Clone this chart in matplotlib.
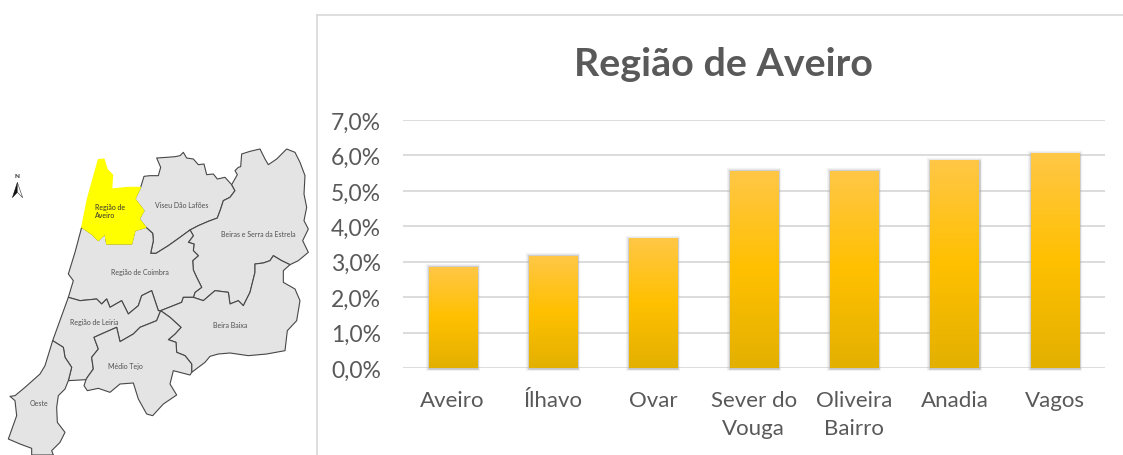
import matplotlib
matplotlib.use('Agg')
import matplotlib.pyplot as plt
import numpy as np
from matplotlib.colors import LinearSegmentedColormap
from matplotlib.patches import Polygon

W, H = 1123, 456

municipios = ['Aveiro', 'Ílhavo', 'Ovar', 'Sever do\nVouga', 'Oliveira\nBairro', 'Anadia', 'Vagos']
valores = [2.85, 3.15, 3.65, 5.55, 5.55, 5.85, 6.05]
ticks_y = [0, 1, 2, 3, 4, 5, 6, 7]
tick_labels = ['0,0%', '1,0%', '2,0%', '3,0%', '4,0%', '5,0%', '6,0%', '7,0%']

# map borders (units = 1/3 pixel), regions are joined from these below
aveiro_norte = [(245,265),(262,180),(295,62),(312,60),(322,92),(338,108),(335,150),(385,145),(422,145)]
aveiro_viseu = [(422,145),(405,180),(432,215),(418,240),(438,265)]
aveiro_coimbra = [(245,265),(275,285),(295,305),(315,285),(320,315),(395,315),(405,275),(438,265)]
viseu_norte = [(422,145),(432,112),(450,110),(475,110),(482,85),(470,57),(500,55),(525,53),(540,50),(550,40),
               (560,57),(580,60),(595,77),(612,75),(620,107),(640,105),(652,120),(675,115),(695,137)]
viseu_beiras = [(695,137),(705,155),(690,175),(670,185),(662,210),(652,237),(625,247),(595,260),(570,273)]
viseu_coimbra = [(570,273),(540,295),(505,320),(468,343),(452,343),(460,305),(458,283),(438,265)]
beiras_fora = [(695,137),(712,107),(705,95),(715,85),(722,83),(725,45),(750,37),(780,30),(795,60),(805,77),(830,60),
               (860,30),(885,40),(900,70),(915,110),(912,165),(920,205),(912,245),(925,270),(908,305),(925,340),
               (895,365),(870,377)]
beiras_bb = [(870,377),(845,365),(820,350),(810,365),(790,372),(765,375),(765,400),(750,460),(730,500),(715,485),
             (690,495),(685,460),(645,455),(610,485),(580,475)]
beiras_coimbra = [(570,273),(580,290),(565,310),(582,315),(580,335),(595,350),(578,365),(580,393),(590,415),
                  (605,445),(585,460),(580,475)]
bb_coimbra = [(482,515),(520,500),(545,490),(550,475),(580,475)]
bb_fora = [(870,377),(850,395),(850,430),(885,450),(900,485),(890,545),(862,575),(855,635),(800,645),(745,650),
           (690,642),(655,645),(630,652),(615,670),(575,700)]
bb_tejo = [(575,700),(575,675),(555,650),(530,640),(528,610),(505,602),(525,585),(543,565),(510,535),(482,515)]
coimbra_leiria = [(205,475),(240,485),(290,480),(305,495),(320,480),(330,505),(365,485),(385,525),(415,500),
                  (425,470),(455,455),(465,485),(475,515),(482,515)]
leiria_tejo = [(482,515),(470,545),(420,565),(400,585),(360,608),(350,565),(320,578),(282,595),(295,630),(275,655),
               (280,690),(262,715),(258,722)]
leiria_sul = [(258,722),(205,725)]
leiria_oeste = [(205,725),(215,685),(195,655),(190,625),(158,605)]
costa_coimbra = [(205,475),(220,425),(205,405),(225,340),(245,265)]
costa_leiria = [(158,605),(205,475)]
costa_oeste = [(158,605),(135,680),(120,705),(75,745),(45,770),(30,772),(45,785),(50,830),(25,900),(60,915),(95,928),(95,948)]
oeste_sul = [(95,948),(160,948),(155,935),(180,910),(195,880),(172,850),(170,805),(175,770),(195,750),(205,725)]
tejo_sul = [(258,722),(252,740),(262,755),(295,748),(330,760),(360,735),(400,732),(415,780),(440,825),(458,830),
            (490,795),(530,768),(510,735),(520,695),(570,708),(575,700)]
nomes_mapa = [('Viseu Dão Lafões', 545, 196), ('Beiras e Serra da Estrela', 775, 283), ('Região de Coimbra', 420, 398),
              ('Região de Leiria', 282, 546), ('Beira Baixa', 692, 555), ('Médio Tejo', 376, 681), ('Oeste', 116, 792)]

viseu = viseu_norte + viseu_beiras + viseu_coimbra + aveiro_viseu[::-1]
beiras = beiras_fora + beiras_bb + beiras_coimbra[::-1] + viseu_beiras[::-1]
coimbra = aveiro_coimbra + viseu_coimbra[::-1] + beiras_coimbra + bb_coimbra[::-1] + coimbra_leiria[::-1] + costa_coimbra
beira_baixa = bb_coimbra + beiras_bb[::-1] + bb_fora + bb_tejo
leiria = coimbra_leiria + leiria_tejo + leiria_sul + leiria_oeste + costa_leiria
medio_tejo = leiria_tejo[::-1] + bb_tejo[::-1] + tejo_sul[::-1]
oeste = costa_oeste + oeste_sul + leiria_oeste
aveiro = aveiro_norte + aveiro_viseu + aveiro_coimbra[::-1]
cinzentas = [viseu, beiras, coimbra, beira_baixa, leiria, medio_tejo, oeste]


def px_axes(x0, y0, x1, y1):
    return fig.add_axes([x0 / W, 1 - y1 / H, (x1 - x0) / W, (y1 - y0) / H])


fig = plt.figure(figsize=(W / 100, H / 100), dpi=100, facecolor='white')
plt.rcParams['font.family'] = ['Lato', 'DejaVu Sans']

# map
mp = px_axes(0, 140, 320, 456)
mp.set_xlim(0, 960)
mp.set_ylim(948, 0)
mp.axis('off')
for reg in cinzentas:
    mp.add_patch(Polygon(reg, closed=True, facecolor='#e4e4e4', edgecolor='#474747', linewidth=0.8, joinstyle='round'))
mp.add_patch(Polygon(aveiro, closed=True, facecolor='#ffff00', edgecolor='#ffff00', linewidth=0.8))
for nome, x, y in nomes_mapa:
    mp.text(x, y, nome, fontsize=5, color='#505050', ha='center', va='center')
mp.text(285, 215, 'Região de\nAveiro', fontsize=5, color='#333333', ha='left', va='center', linespacing=1.1)
mp.text(52, 108, 'N', fontsize=4.5, fontweight='bold', color='#222222', ha='center', va='center')
mp.add_patch(Polygon([(37, 176), (52, 130), (52, 160)], closed=True, facecolor='#111111', edgecolor='#111111', linewidth=0.3))
mp.add_patch(Polygon([(68, 176), (52, 130), (52, 160)], closed=True, facecolor='white', edgecolor='#333333', linewidth=0.4))

# chart frame
fig.add_artist(plt.Line2D([316.5 / W, 316.5 / W], [0, 1 - 15.5 / H], color='#d9d9d9', linewidth=1.2))
fig.add_artist(plt.Line2D([316.5 / W, 1], [1 - 15.5 / H, 1 - 15.5 / H], color='#d9d9d9', linewidth=1.2))
fig.text(724 / W, 1 - 65 / H, 'Região de Aveiro', fontsize=28.4, fontweight='bold', color='#595959', ha='center', va='center')

# bars
ax = px_axes(402.5, 121, 1105, 369)
x = np.arange(len(municipios))
ax.set_xticks(x)
ax.set_xticklabels(municipios, linespacing=1.55)
ax.set_yticks(ticks_y)
ax.set_yticklabels(tick_labels)
ax.tick_params(length=0, labelcolor='#595959')
ax.tick_params(axis='x', pad=15.5, labelsize=16)
ax.tick_params(axis='y', pad=15.5, labelsize=16.5)
ax.grid(axis='y', color='#d9d9d9', linewidth=1.3)
ax.set_axisbelow(True)
for s in ax.spines.values():
    s.set_visible(False)

grad = LinearSegmentedColormap.from_list('ouro', ['#e3b000', '#ffc000', '#ffc746'], N=128)
largura = 0.48
for lw, al in [(4.5, 0.12), (3.2, 0.2), (1.8, 0.6)]:
    ax.bar(x, valores, width=largura, facecolor='none', edgecolor='#b0b0b0', linewidth=lw, alpha=al, zorder=2.5, clip_on=False)
barras = ax.bar(x, valores, width=largura, color='none', zorder=3)
for b in barras:
    ax.imshow(np.linspace(1, 0, 128).reshape(-1, 1), cmap=grad, aspect='auto', zorder=3, vmin=0, vmax=1,
              extent=[b.get_x(), b.get_x() + b.get_width(), 0, b.get_height()])
ax.set_xlim(-0.5, len(municipios) - 0.5)
ax.set_ylim(0, 7)

fig.savefig('out.png', dpi=100)
